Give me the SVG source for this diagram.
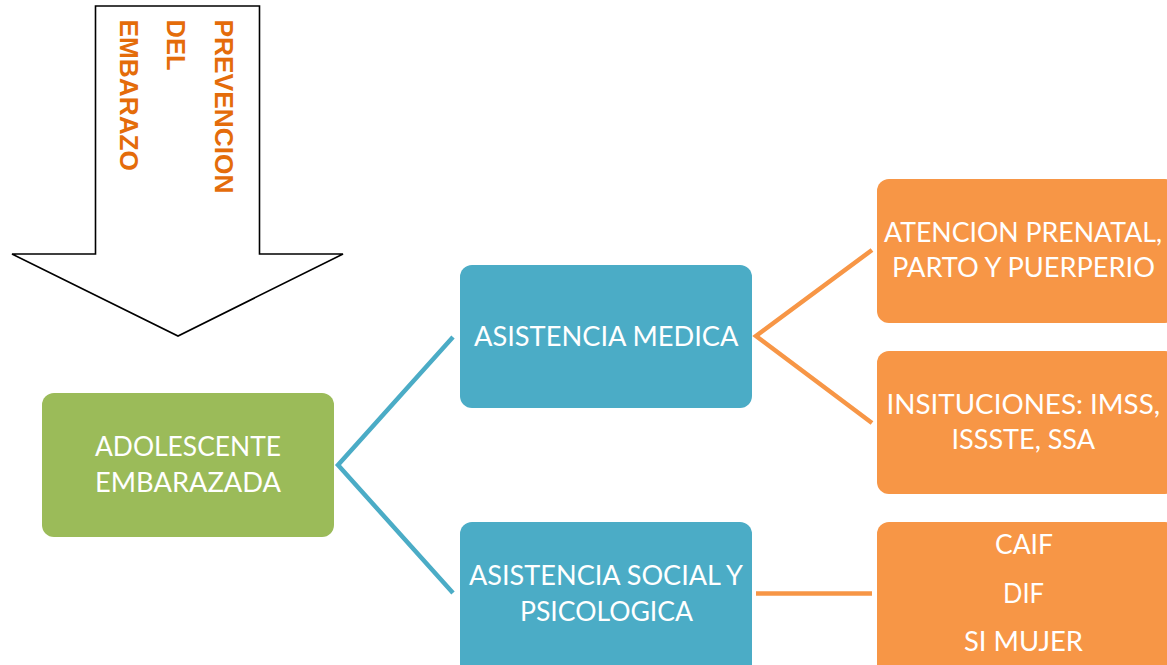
<svg xmlns="http://www.w3.org/2000/svg" width="1167" height="665" viewBox="0 0 1167 665">
<style>
.lbl{font-family:Lato,"Open Sans","Liberation Sans",sans-serif;font-size:27px;fill:#ffffff;}
.vt{font-family:"Liberation Sans",Arial,sans-serif;font-size:26.5px;font-weight:bold;fill:#E46C0A;}
.green{fill:#9BBB59;}
.blue{fill:#4BACC6;}
.orange{fill:#F79646;}
.cb{stroke:#4BACC6;stroke-width:4.5;fill:none;}
.co{stroke:#F79646;stroke-width:4.5;fill:none;}
</style>
<rect width="1167" height="665" fill="#ffffff"/>
<g id="arrow">
<polygon points="95.5,6 259.5,6 259.5,254 343,254 178,336 12,254 95.5,254" fill="#ffffff" stroke="#000000" stroke-width="1.6"/>
<text class="vt" transform="translate(215,19.5) rotate(90)" x="0" y="0" textLength="174" lengthAdjust="spacingAndGlyphs">PREVENCION</text>
<text class="vt" transform="translate(167,19.5) rotate(90)" x="0" y="0" textLength="51" lengthAdjust="spacingAndGlyphs">DEL</text>
<text class="vt" transform="translate(119.5,19.5) rotate(90)" x="0" y="0" textLength="151.5" lengthAdjust="spacingAndGlyphs">EMBARAZO</text>
</g>
<g id="connectors">
<polyline class="cb" points="453,337 338,465 453,593"/>
<polyline class="co" points="872,250 756,336 872,423"/>
<line class="co" x1="756" y1="593.5" x2="872" y2="593.5"/>
</g>
<g id="node-adolescente">
<rect class="green" x="42" y="393" width="292" height="144" rx="12"/>
<text class="lbl" x="95" y="456" textLength="186" lengthAdjust="spacingAndGlyphs">ADOLESCENTE</text>
<text class="lbl" x="95" y="491.5" textLength="186" lengthAdjust="spacingAndGlyphs">EMBARAZADA</text>
</g>
<g id="node-medica">
<rect class="blue" x="460" y="265" width="292" height="143" rx="12"/>
<text class="lbl" x="474" y="346" textLength="264.5" lengthAdjust="spacingAndGlyphs">ASISTENCIA MEDICA</text>
</g>
<g id="node-social">
<rect class="blue" x="460" y="522" width="292" height="160" rx="12"/>
<text class="lbl" x="469" y="585" textLength="274" lengthAdjust="spacingAndGlyphs">ASISTENCIA SOCIAL Y</text>
<text class="lbl" x="520" y="620.5" textLength="173" lengthAdjust="spacingAndGlyphs">PSICOLOGICA</text>
</g>
<g id="node-prenatal">
<rect class="orange" x="877" y="179" width="300" height="144" rx="12"/>
<text class="lbl" x="884" y="241.5" textLength="278" lengthAdjust="spacingAndGlyphs">ATENCION PRENATAL,</text>
<text class="lbl" x="892" y="277" textLength="263" lengthAdjust="spacingAndGlyphs">PARTO Y PUERPERIO</text>
</g>
<g id="node-instituciones">
<rect class="orange" x="877" y="351" width="300" height="143" rx="12"/>
<text class="lbl" x="886.5" y="414" textLength="273.5" lengthAdjust="spacingAndGlyphs">INSITUCIONES: IMSS,</text>
<text class="lbl" x="951.5" y="449" textLength="143.5" lengthAdjust="spacingAndGlyphs">ISSSTE, SSA</text>
</g>
<g id="node-caif">
<rect class="orange" x="877" y="522" width="300" height="160" rx="12"/>
<text class="lbl" x="995" y="554" textLength="58" lengthAdjust="spacingAndGlyphs">CAIF</text>
<text class="lbl" x="1003" y="602.5" textLength="41" lengthAdjust="spacingAndGlyphs">DIF</text>
<text class="lbl" x="964" y="651" textLength="119" lengthAdjust="spacingAndGlyphs">SI MUJER</text>
</g>
</svg>
